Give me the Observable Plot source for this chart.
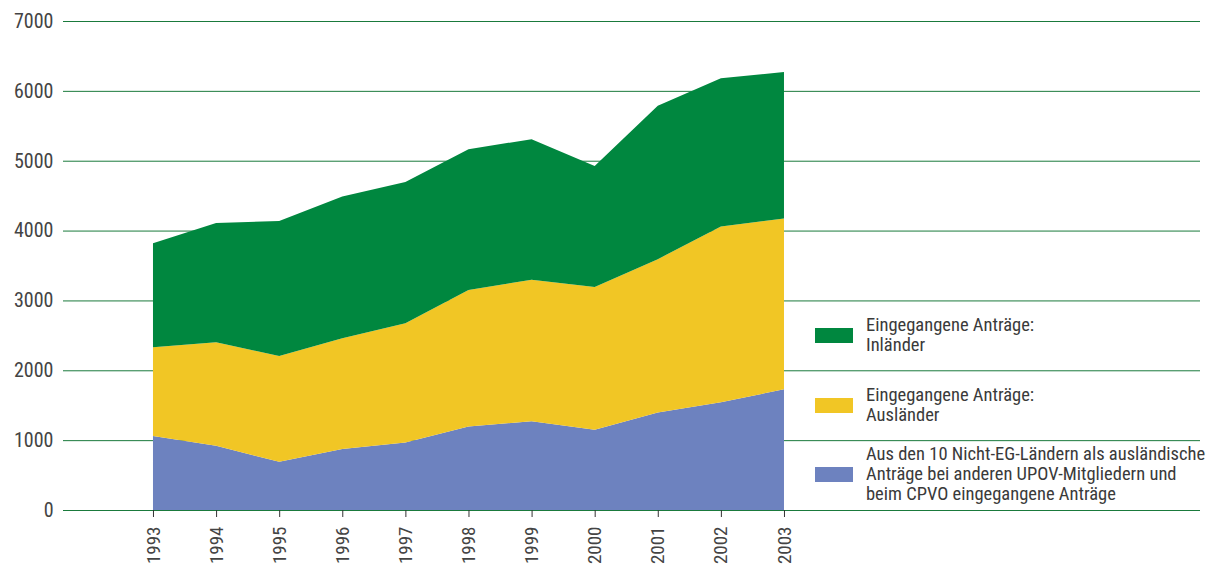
<!DOCTYPE html>
<html>
<head>
<meta charset="utf-8">
<script src="https://cdn.jsdelivr.net/npm/d3@7"></script>
<script src="https://cdn.jsdelivr.net/npm/@observablehq/plot@0.6"></script>
<style>
  html, body { margin: 0; padding: 0; background: #fff; }
  #wrap { position: relative; width: 1225px; height: 567px; overflow: hidden;
          font-family: "Liberation Sans Narrow", "Roboto Condensed", "Liberation Sans", sans-serif; }
  .legend { position: absolute; left: 815px; display: flex; align-items: center; }
  .sw { width: 38px; height: 15px; margin-right: 13px; flex: none; }
  .lt { font-size: 18.5px; line-height: 20px; color: #3a3a3a; white-space: nowrap; }
</style>
</head>
<body>
<div id="wrap"></div>
<script>
const years = [1993, 1994, 1995, 1996, 1997, 1998, 1999, 2000, 2001, 2002, 2003];
const seriesNames = [
  "Aus den 10 Nicht-EG-Ländern als ausländische Anträge bei anderen UPOV-Mitgliedern und beim CPVO eingegangene Anträge",
  "Eingegangene Anträge: Ausländer",
  "Eingegangene Anträge: Inländer"
];
const blueValues   = [1059, 918, 690, 872, 965, 1194, 1271, 1147, 1396, 1541, 1728];
const yellowValues = [1271, 1485, 1515, 1588, 1708, 1956, 2024, 2044, 2195, 2517, 2444];
const greenValues  = [1490, 1707, 1931, 2029, 2023, 2013, 2014, 1734, 2195, 2123, 2097];
const seriesColors = ["#6d82bf", "#f1c625", "#00873f"];
const yTicks = [0, 1000, 2000, 3000, 4000, 5000, 6000, 7000];
const legendLines = [
  ["Eingegangene Anträge:", "Inländer"],
  ["Eingegangene Anträge:", "Ausländer"],
  ["Aus den 10 Nicht-EG-Ländern als ausländische", "Anträge bei anderen UPOV-Mitgliedern und", "beim CPVO eingegangene Anträge"]
];

const allValues = [blueValues, yellowValues, greenValues];
const data = [];
seriesNames.forEach((s, i) => {
  years.forEach((yr, j) => data.push({year: yr, series: s, value: allValues[i][j]}));
});

const chart = Plot.plot({
  width: 1225,
  height: 567,
  marginLeft: 63,
  marginRight: 25,
  marginTop: 21,
  marginBottom: 57,
  style: {background: "#fff", fontFamily: "\"Liberation Sans Narrow\", \"Roboto Condensed\", \"Liberation Sans\", sans-serif", color: "#444"},
  x: {domain: [1991.574, 2009.593]},
  y: {domain: [0, 7000]},
  color: {domain: seriesNames, range: seriesColors},
  marks: [
    Plot.ruleY(yTicks, {stroke: "#1a7a3c", strokeWidth: 1}),
    Plot.areaY(data, {x: "year", y: "value", fill: "series", z: "series"}),
    Plot.ruleY([0], {stroke: "#1a7a3c", strokeWidth: 1.2}),
    Plot.axisY(yTicks, {tickSize: 0, tickPadding: 10, fontSize: 20, fill: "#444", label: null,
                        tickFormat: d => String(d)}),
    Plot.axisX(years, {tickSize: 7, tickPadding: 9, tickRotate: -90, fontSize: 19, fill: "#444", stroke: "#333",
                       tickFormat: d => String(d), label: null})
  ]
});

const wrap = document.getElementById("wrap");
wrap.appendChild(chart);

const legendTops = [315, 385, 444];
legendLines.forEach((lines, i) => {
  const row = document.createElement("div");
  row.className = "legend";
  row.style.top = legendTops[i] + "px";
  const sw = document.createElement("div");
  sw.className = "sw";
  sw.style.background = seriesColors[2 - i];
  const lt = document.createElement("div");
  lt.className = "lt";
  lt.innerHTML = lines.join("<br>");
  row.appendChild(sw);
  row.appendChild(lt);
  wrap.appendChild(row);
});
</script>
</body>
</html>
